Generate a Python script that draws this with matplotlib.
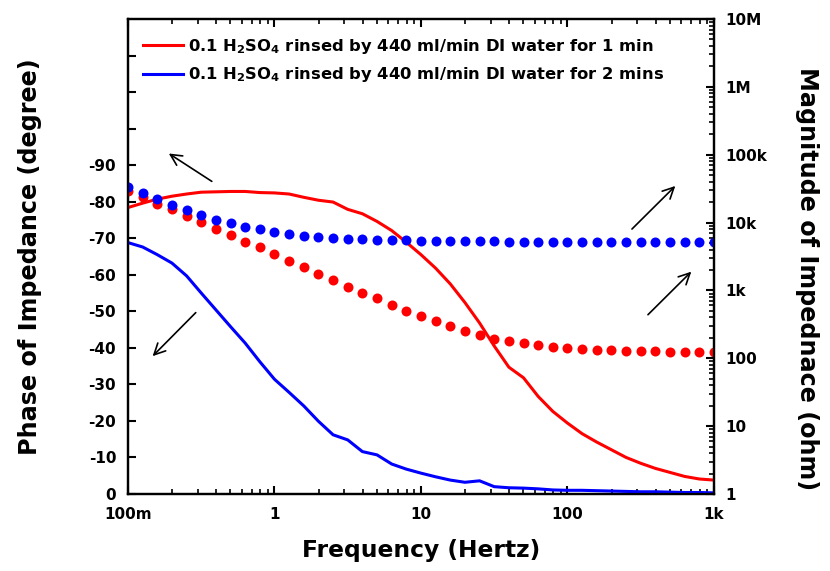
import numpy as np
import matplotlib
matplotlib.use("Agg")
import matplotlib.pyplot as plt
from matplotlib.ticker import FixedLocator, FixedFormatter, LogLocator, NullFormatter

plt.rcParams['font.family'] = ['DejaVu Sans']
plt.rcParams['font.weight'] = 'bold'
plt.rcParams['mathtext.fontset'] = 'dejavusans'
plt.rcParams['mathtext.default'] = 'bf'

# frequencies: 10 points per decade, 0.1 Hz .. 1 kHz
freq_exp = np.arange(41) / 10.0 - 1.0
freq = 10 ** freq_exp

# phase (degree), 1 min rinse
phase_1min = [-78.4, -79.6, -80.7, -81.5, -82.1, -82.6, -82.7, -82.8, -82.8, -82.5,
              -82.4, -82.1, -81.2, -80.4, -79.9, -77.9, -76.7, -74.6, -72.1, -68.9,
              -65.5, -61.8, -57.5, -52.4, -46.8, -40.5, -34.7, -31.8, -26.7, -22.6,
              -19.4, -16.5, -14.2, -12.1, -10.0, -8.4, -7.0, -5.9, -4.8, -4.1, -3.8]
# phase (degree), 2 mins rinse
phase_2min = [-68.8, -67.6, -65.5, -63.2, -59.7, -55.0, -50.4, -45.8, -41.3, -36.2,
              -31.4, -27.8, -24.1, -19.9, -16.2, -14.8, -11.6, -10.7, -8.2, -6.8,
              -5.7, -4.7, -3.8, -3.2, -3.6, -2.0, -1.7, -1.6, -1.4, -1.1,
              -1.0, -1.0, -0.9, -0.8, -0.7, -0.6, -0.6, -0.5, -0.4, -0.4, -0.3]
# log10 |Z| (ohm), 1 min rinse
logz_1min = [4.470, 4.382, 4.274, 4.196, 4.097, 4.004, 3.910, 3.813, 3.719, 3.636,
             3.533, 3.439, 3.341, 3.242, 3.154, 3.055, 2.967, 2.884, 2.786, 2.702,
             2.619, 2.550, 2.476, 2.402, 2.348, 2.289, 2.255, 2.221, 2.196, 2.171,
             2.152, 2.142, 2.127, 2.118, 2.112, 2.108, 2.103, 2.098, 2.093, 2.088, 2.088]
# log10 |Z| (ohm), 2 mins rinse
logz_2min = [4.520, 4.432, 4.343, 4.259, 4.186, 4.112, 4.043, 3.990, 3.940, 3.901,
             3.857, 3.828, 3.802, 3.783, 3.768, 3.763, 3.754, 3.748, 3.739, 3.736,
             3.733, 3.730, 3.728, 3.725, 3.723, 3.721, 3.720, 3.719, 3.718, 3.718,
             3.717, 3.717, 3.716, 3.716, 3.715, 3.715, 3.714, 3.714, 3.713, 3.713, 3.712]
mag_1min = 10 ** np.array(logz_1min)
mag_2min = 10 ** np.array(logz_2min)

legend_labels = ["0.1 H$_2$SO$_4$ rinsed by 440 ml/min DI water for 1 min",
                 "0.1 H$_2$SO$_4$ rinsed by 440 ml/min DI water for 2 mins"]

x_ticks = [0.1, 1, 10, 100, 1000]
x_ticklabels = ["100m", "1", "10", "100", "1k"]
phase_ticks = [0, -10, -20, -30, -40, -50, -60, -70, -80, -90, -100, -110, -120]
phase_ticklabels = ["0", "-10", "-20", "-30", "-40", "-50", "-60", "-70", "-80", "-90", "", "", ""]
mag_ticks = [1, 10, 100, 1e3, 1e4, 1e5, 1e6, 1e7]
mag_ticklabels = ["1", "10", "100", "1k", "10k", "100k", "1M", "10M"]

fig = plt.figure(figsize=(8.3, 5.71), dpi=100)
ax = fig.add_axes([0.1542, 0.1349, 0.7060, 0.8318])
ax2 = ax.twinx()

red = '#ff0000'
blue = '#0000ff'

ax.plot(freq, phase_1min, color=red, lw=2.2, label=legend_labels[0], zorder=3)
ax.plot(freq, phase_2min, color=blue, lw=2.2, label=legend_labels[1], zorder=3)
ax2.plot(freq, mag_1min, 'o', color=red, ms=7.2, mec='none')
ax2.plot(freq, mag_2min, 'o', color=blue, ms=7.2, mec='none')

ax.set_xscale('log')
ax.set_xlim(0.1, 1000)
ax.set_ylim(0, -130)
ax.yaxis.set_major_locator(FixedLocator(phase_ticks))
ax.yaxis.set_major_formatter(FixedFormatter(phase_ticklabels))
ax.xaxis.set_major_locator(FixedLocator(x_ticks))
ax.xaxis.set_major_formatter(FixedFormatter(x_ticklabels))
ax.xaxis.set_minor_locator(LogLocator(base=10, subs=np.arange(2, 10)))
ax.xaxis.set_minor_formatter(NullFormatter())

ax2.set_yscale('log')
ax2.set_ylim(1, 1e7)
ax2.yaxis.set_major_locator(FixedLocator(mag_ticks))
ax2.yaxis.set_major_formatter(FixedFormatter(mag_ticklabels))
ax2.yaxis.set_minor_locator(LogLocator(base=10, subs=np.arange(2, 10)))
ax2.yaxis.set_minor_formatter(NullFormatter())

for a in (ax, ax2):
    for s in a.spines.values():
        s.set_linewidth(1.6)

ax.tick_params(axis='both', which='major', direction='in', length=6, width=1.5,
               labelsize=11)
ax.tick_params(axis='y', which='major', pad=8.5)
ax.tick_params(axis='x', which='major', pad=9.5)
ax.tick_params(axis='x', which='both', top=True, direction='in')
ax.tick_params(axis='x', which='minor', length=3.5, width=1.2)
ax.tick_params(axis='y', which='both', right=False)
ax2.tick_params(axis='y', which='major', direction='in', length=6, width=1.5,
                labelsize=11, pad=8.5)
ax2.tick_params(axis='y', which='minor', direction='in', length=3.5, width=1.2)

for lab in ax.get_xticklabels() + ax.get_yticklabels() + ax2.get_yticklabels():
    lab.set_fontweight('bold')

ax.set_xlabel("Frequency (Hertz)", fontsize=16.8, fontweight='bold')
ax.set_ylabel("Phase of Impedance (degree)", fontsize=17.2, fontweight='bold')
ax2.set_ylabel("Magnitude of Impednace (ohm)", fontsize=17.2, fontweight='bold',
               rotation=270)
ax.xaxis.set_label_coords(0.5, -0.095)
ax.yaxis.set_label_coords(-0.146, 0.50)
ax2.yaxis.set_label_coords(1.18, 0.453)

leg = ax.legend(loc='upper left', bbox_to_anchor=(0.0147, 0.976), frameon=False,
                handlelength=2.45, handletextpad=0.3, borderaxespad=0.0,
                labelspacing=0.58, prop={'weight': 'bold', 'size': 11.8})
for line in leg.get_lines():
    line.set_linewidth(2.2)

arrow_kw = dict(arrowstyle='->', color='black', lw=1.2, mutation_scale=20)
arrows = [((0.147, 0.655), (0.0657, 0.720)),
          ((0.119, 0.386), (0.0387, 0.286)),
          ((0.8567, 0.5537), (0.9374, 0.6526)),
          ((0.8840, 0.3733), (0.9647, 0.4722))]
for tail, head in arrows:
    ax2.annotate('', xy=head, xytext=tail, xycoords='axes fraction',
                 textcoords='axes fraction', arrowprops=arrow_kw)

fig.savefig('out.png', dpi=100)
